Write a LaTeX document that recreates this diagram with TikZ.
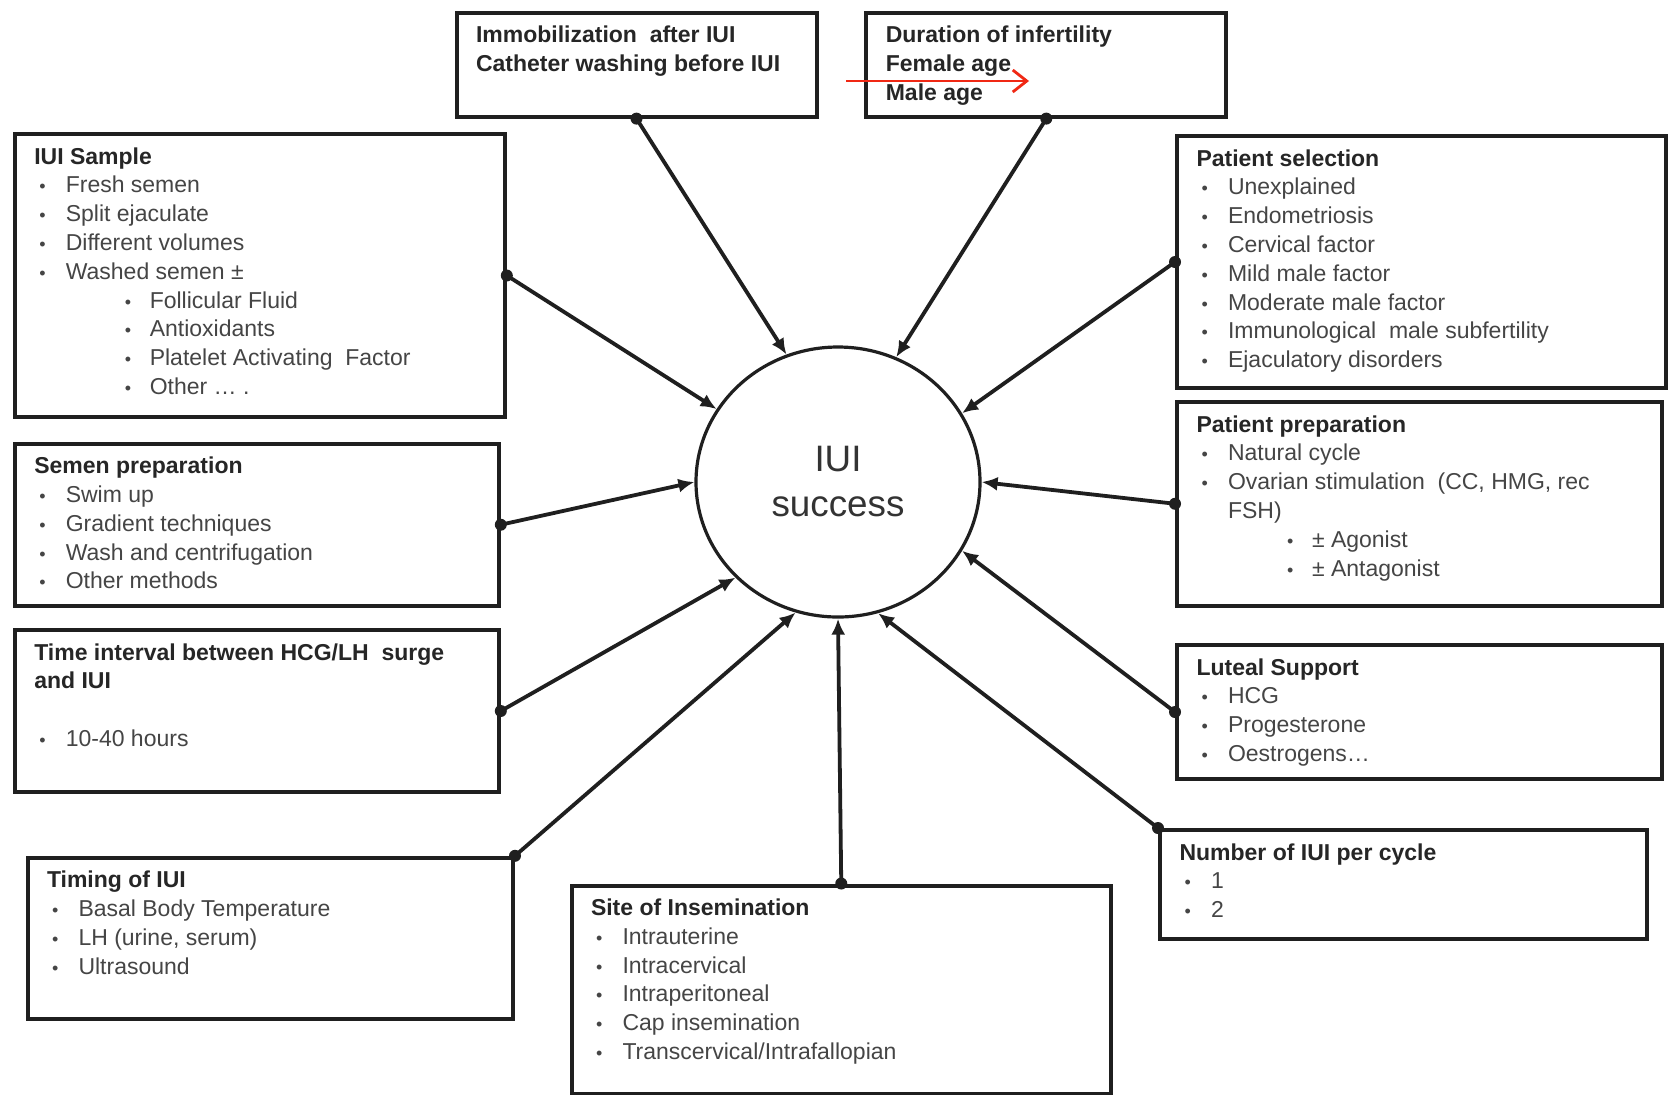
\documentclass[tikz,border=0pt]{standalone}
\usepackage{fontspec}
\setmainfont{Liberation Sans}
\usetikzlibrary{arrows.meta,shapes.geometric}

\definecolor{txt}{gray}{0.27}
\definecolor{hdr}{gray}{0.15}
\definecolor{linec}{gray}{0.12}
\definecolor{redarrow}{RGB}{240,40,20}

\newcommand{\bul}{{\fontsize{9pt}{9pt}\selectfont\textbullet}}
\newcommand{\itm}[1]{\hspace*{2.5pt}\makebox[13.25pt][l]{\bul}#1}
\newcommand{\sitm}[1]{\hspace*{45.25pt}\makebox[12.5pt][l]{\bul}#1}
\newcommand{\hd}[1]{{\bfseries\color{hdr}#1}}
\newcommand{\boxc}[3]{\parbox[b][#2][t]{#1}{\fontsize{11.5pt}{14.4pt}\selectfont\raggedright\leftskip=9.75pt\color{txt}\rule{0pt}{15pt}#3}}

\tikzset{
  ibox/.style={draw=linec, line width=2pt, inner sep=0pt, anchor=north west},
  conn/.style={line width=1.9pt, draw=linec, -{Latex[length=8pt,width=7pt]}},
  hub/.style={ellipse, draw=linec, line width=1.6pt, minimum width=142pt, minimum height=135pt,
    inner sep=0pt, align=center, font=\fontsize{18.4pt}{22.5pt}\selectfont, text=black!80},
}

\begin{document}
\begin{tikzpicture}[x=0.5pt,y=-0.5pt]
\fill[white] (0,0) rectangle (1669,1094);
\useasboundingbox (0,0) rectangle (1669,1094);

\node[hub] (c) at (838,482) {IUI\\success};

\node[ibox] (imm) at (454.5,10.6) {\boxc{180pt}{52pt}{\hd{Immobilization\ \ after IUI}\\\hd{Catheter washing before IUI}}};
\node[ibox] (dur) at (864.3,10.6) {\boxc{180pt}{52pt}{\hd{Duration of infertility}\\\hd{Female age}\\\hd{Male age}}};

\node[ibox] (samp) at (12.8,132) {\boxc{245pt}{141.5pt}{\hd{IUI Sample}\\\itm{Fresh semen}\\\itm{Split ejaculate}\\\itm{Different volumes}\\\itm{Washed semen ±}\\\sitm{Follicular Fluid}\\\sitm{Antioxidants}\\\sitm{Platelet Activating\ \ Factor}\\\sitm{Other … .}}};

\node[ibox] (sel) at (1175,134) {\boxc{244.5pt}{126pt}{\hd{Patient selection}\\\itm{Unexplained}\\\itm{Endometriosis}\\\itm{Cervical factor}\\\itm{Mild male factor}\\\itm{Moderate male factor}\\\itm{Immunological\ \ male subfertility}\\\itm{Ejaculatory disorders}}};

\node[ibox] (prep) at (1175,400) {\boxc{242.5pt}{101.75pt}{\hd{Patient preparation}\\\itm{Natural cycle}\\\itm{Ovarian stimulation\ \ (CC, HMG, rec}\\\hspace*{15.75pt}FSH)\\\sitm{± Agonist}\\\sitm{± Antagonist}}};

\node[ibox] (semen) at (12.8,441.7) {\boxc{242pt}{81pt}{\hd{Semen preparation}\\\itm{Swim up}\\\itm{Gradient techniques}\\\itm{Wash and centrifugation}\\\itm{Other methods}}};

\node[ibox] (time) at (12.8,628) {\boxc{242pt}{81pt}{\hd{Time interval between HCG/LH\ \ surge}\\\hd{and IUI}\\\mbox{}\\\itm{10-40 hours}}};

\node[ibox] (lut) at (1175,643) {\boxc{242.5pt}{67pt}{\hd{Luteal Support}\\\itm{HCG}\\\itm{Progesterone}\\\itm{Oestrogens…}}};

\node[ibox] (num) at (1158,828) {\boxc{243.25pt}{54.5pt}{\hd{Number of IUI per cycle}\\\itm{1}\\\itm{2}}};

\node[ibox] (tim) at (25.5,855.8) {\boxc{242.75pt}{80.4pt}{\hd{Timing of IUI}\\\itm{Basal Body Temperature}\\\itm{LH (urine, serum)}\\\itm{Ultrasound}}};

\node[ibox] (site) at (569.5,883.5) {\boxc{269.75pt}{104.25pt}{\hd{Site of Insemination}\\\itm{Intrauterine}\\\itm{Intracervical}\\\itm{Intraperitoneal}\\\itm{Cap insemination}\\\itm{Transcervical/Intrafallopian}}};

\draw[conn] (imm.south) -- (c.112.1);
\draw[conn] (dur.south) -- (c.65.4);
\draw[conn] (samp.east) -- (c.149.6);
\draw[conn] (sel.west) -- (c.29.5);
\draw[conn] (prep.west) -- (c.0);
\draw[conn] (semen.east) -- (c.180);
\draw[conn] (time.east) -- (c.223.8);
\draw[conn] (lut.west) -- (c.331.5);
\draw[conn] (num.north west) -- (c.287.6);
\draw[conn] (tim.north east) -- (c.252.7);
\draw[conn] (site.north) -- (c.270);

\foreach \p in {imm.south,dur.south,samp.east,sel.west,prep.west,semen.east,time.east,lut.west,num.north west,tim.north east,site.north}
  \fill[linec] (\p) circle (3pt);

\coordinate (ra) at (846,81);
\coordinate (rb) at (1029,81);
\draw[redarrow, line width=1.4pt, -{Straight Barb[length=7pt,width=11pt]}] (ra) -- (rb);
\end{tikzpicture}
\end{document}
